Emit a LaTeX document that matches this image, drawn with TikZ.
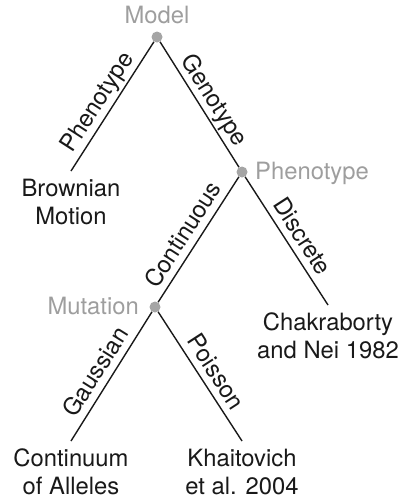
\documentclass[tikz,border=0pt]{standalone}
\usepackage{fontspec}
\setmainfont{TeX Gyre Heros}
\definecolor{lblgray}{RGB}{158,158,158}
\definecolor{dotgray}{RGB}{165,165,165}
\definecolor{edgecol}{RGB}{25,25,25}
\definecolor{txtcol}{RGB}{25,25,25}
\begin{document}
\begin{tikzpicture}[x=1pt,y=-1pt,
  every node/.style={font=\fontsize{23.8}{28.5}\selectfont},
  dotnode/.style={circle, fill=dotgray, inner sep=0pt, minimum size=11pt},
  glabel/.style={text=lblgray, inner sep=0pt},
  leaf/.style={align=center, inner sep=0pt, anchor=north, text=txtcol},
  branch/.style={draw=edgecol, line width=1.4pt},
  elabel/.style={sloped, above, inner xsep=0pt, inner ysep=7pt, text depth=0pt, pos=0.53, text=txtcol}]
\useasboundingbox (0,0) rectangle (401,498);

% internal nodes
\node[dotnode] (m) at (157,37) {};
\node[dotnode] (p) at (242,172) {};
\node[dotnode] (mu) at (155,307) {};

% gray labels
\node[glabel, anchor=base] (mlab) at (157,23) {Model};
\node[glabel, anchor=base west] (plab) at (255,179.5) {Phenotype};
\node[glabel, anchor=base east] (mulab) at (139,314.5) {Mutation};

% leaves
\node[leaf] (bm) at (71,178.5) {Brownian\\Motion};
\node[leaf] (ch) at (328,312.5) {Chakraborty\\and Nei 1982};
\node[leaf] (ca) at (71,448.5) {Continuum\\of Alleles};
\node[leaf] (kh) at (242,448.5) {Khaitovich\\et al. 2004};

% branches
\draw[branch] (m) -- node[elabel] {Phenotype} ([yshift=7.5pt]bm.north);
\draw[branch] (m) -- node[elabel] {Genotype} (p);
\draw[branch] (p) -- node[elabel] {Continuous} (mu);
\draw[branch] (p) -- node[elabel] {Discrete} ([yshift=7.5pt]ch.north);
\draw[branch] (mu) -- node[elabel] {Gaussian} ([yshift=7.5pt]ca.north);
\draw[branch] (mu) -- node[elabel] {Poisson} ([yshift=7.5pt]kh.north);
\end{tikzpicture}
\end{document}
